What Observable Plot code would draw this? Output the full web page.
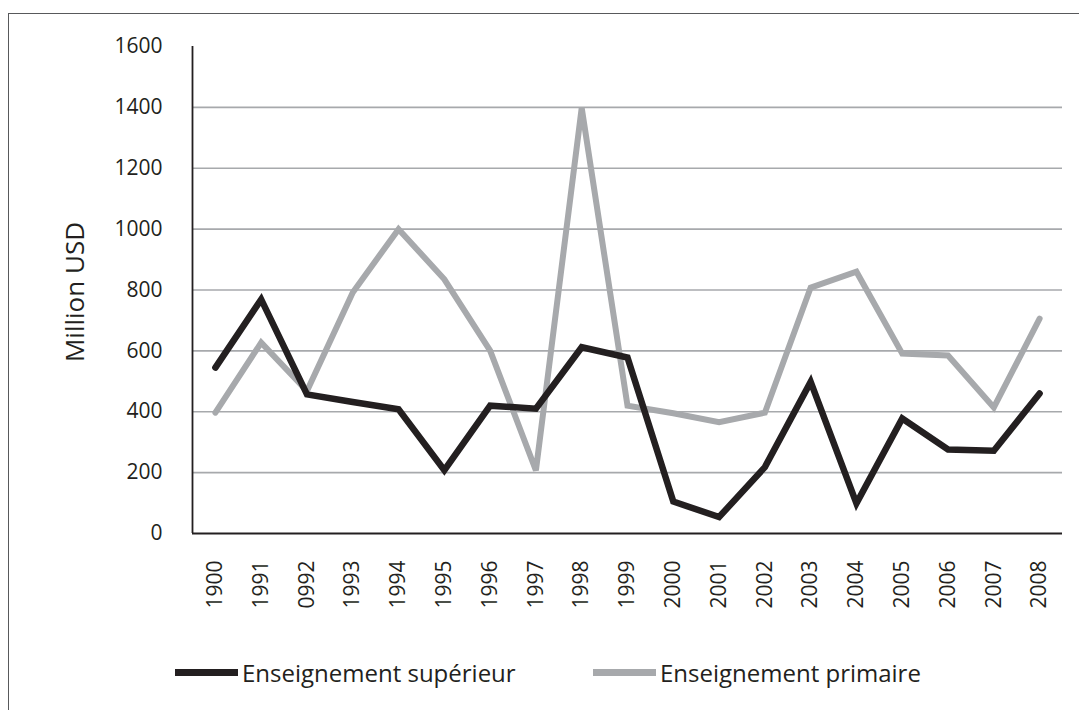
<!DOCTYPE html>
<html>
<head>
<meta charset="utf-8">
<script src="https://cdn.jsdelivr.net/npm/d3@7"></script>
<script src="https://cdn.jsdelivr.net/npm/@observablehq/plot@0.6"></script>
<style>
  html, body { margin: 0; padding: 0; background: #fff; width: 1079px; height: 710px; overflow: hidden; }
  body { position: relative; font-family: "Open Sans", sans-serif; color: #231f20; }
  #frame { position: absolute; left: 8px; top: 13px; width: 1200px; height: 800px; border-top: 1.5px solid #58595b; border-left: 1.5px solid #58595b; }
  #chart { position: absolute; left: 0; top: 0; }
  #chart svg text { font-size: 21px; fill: #231f20; }
  #ylabel { position: absolute; left: 74px; top: 292px; transform: translate(-50%, -50%) rotate(-90deg); font-size: 26px; white-space: nowrap; }
  #legend { position: absolute; left: 0; top: 654px; width: 1079px; height: 40px; font-size: 24px; }
  .item { position: absolute; top: 0; display: flex; align-items: center; height: 36px; }
  .sw { width: 63px; height: 7px; margin-right: 4px; }
</style>
</head>
<body>
<div id="frame"></div>
<div id="chart"></div>
<div id="ylabel"></div>
<div id="legend"></div>
<script>
const years = ["1900","1991","0992","1993","1994","1995","1996","1997","1998","1999","2000","2001","2002","2003","2004","2005","2006","2007","2008"];
const superieur = [545, 769, 457, 432, 408, 208, 420, 410, 612, 578, 105, 54, 218, 498, 99, 378, 276, 272, 460];
const primaire = [397, 627, 468, 792, 1000, 835, 601, 207, 1398, 420, 395, 366, 397, 808, 860, 591, 585, 414, 706];
const seriesNames = ["Enseignement supérieur", "Enseignement primaire"];
const seriesColors = ["#231f20", "#a7a9ac"];
const yTicks = [0, 200, 400, 600, 800, 1000, 1200, 1400, 1600];
const gridTicks = [200, 400, 600, 800, 1000, 1200, 1400];
const yTitle = "Million USD";

const rows = [];
years.forEach((y, i) => {
  rows.push({year: y, value: superieur[i], series: seriesNames[0]});
  rows.push({year: y, value: primaire[i], series: seriesNames[1]});
});

const chart = Plot.plot({
  width: 1079,
  height: 640,
  marginTop: 46,
  marginBottom: 107,
  marginLeft: 192,
  marginRight: 17,
  style: {fontFamily: "'Open Sans', sans-serif", fontSize: "21px", color: "#231f20", background: "transparent", overflow: "visible"},
  x: {type: "point", domain: years, padding: 0.5, round: false, label: null, tickSize: 0, tickRotate: -90, tickPadding: 27},
  y: {domain: [0, 1600], ticks: yTicks, tickFormat: d => String(d), tickSize: 0, tickPadding: 30, label: null},
  color: {domain: seriesNames, range: seriesColors},
  marks: [
    Plot.ruleY(gridTicks, {stroke: "#a7a9ac", strokeWidth: 1.6}),
    Plot.line(rows.filter(d => d.series === seriesNames[1]), {x: "year", y: "value", stroke: "series", strokeWidth: 6, strokeLinejoin: "miter", strokeMiterlimit: 3}),
    Plot.line(rows.filter(d => d.series === seriesNames[0]), {x: "year", y: "value", stroke: "series", strokeWidth: 6.5, strokeLinejoin: "miter", strokeMiterlimit: 3}),
    Plot.ruleY([0], {stroke: "#231f20", strokeWidth: 1.8}),
    Plot.ruleX([0], {x: () => years[0], dx: -22.9, y1: 0, y2: 1600, stroke: "#231f20", strokeWidth: 1.8})
  ]
});
document.getElementById("chart").appendChild(chart);
document.getElementById("ylabel").textContent = yTitle;

const legend = document.getElementById("legend");
const lefts = [175, 593];
seriesNames.forEach((name, i) => {
  const it = document.createElement("div");
  it.className = "item";
  it.style.left = lefts[i] + "px";
  const sw = document.createElement("div");
  sw.className = "sw";
  sw.style.background = seriesColors[i];
  const tx = document.createElement("span");
  tx.textContent = name;
  it.appendChild(sw);
  it.appendChild(tx);
  legend.appendChild(it);
});
</script>
</body>
</html>
